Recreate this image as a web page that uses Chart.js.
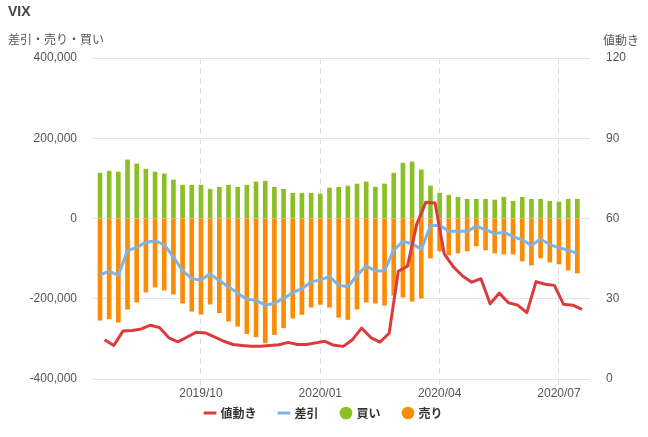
<!DOCTYPE html>
<html lang="ja">
<head>
  <meta charset="UTF-8">
  <title>VIX</title>
  <script src="https://cdn.jsdelivr.net/npm/chart.js"></script>
</head>
<body style="margin:0; background:#fff; font-family:'Liberation Sans', Arial, sans-serif;">

  <!-- HEADER TEXTS -->
  <div style="position:relative; width:648px; height:437px;">
    <div style="position:absolute; left:8px; top:3px; font-size:14px; font-weight:bold; color:#444;">VIX</div>
    <div style="position:absolute; left:8px; top:30px; font-size:12px; color:#555; font-family:'Noto Sans CJK JP', sans-serif;">差引・売り・買い</div>
    <div style="position:absolute; left:603px; top:31px; font-size:12px; color:#555; font-family:'Noto Sans CJK JP', sans-serif;">値動き</div>
    <canvas id="vixChart"></canvas>
  </div>

  <script>
    // weekly dates
    const dates = [
      '2019/07/19','2019/07/26','2019/08/02','2019/08/09','2019/08/16','2019/08/23','2019/08/30',
      '2019/09/06','2019/09/13','2019/09/20','2019/09/27','2019/10/04','2019/10/11','2019/10/18',
      '2019/10/25','2019/11/01','2019/11/08','2019/11/15','2019/11/22','2019/11/29','2019/12/06',
      '2019/12/13','2019/12/20','2019/12/27','2020/01/03','2020/01/10','2020/01/17','2020/01/24',
      '2020/01/31','2020/02/07','2020/02/14','2020/02/21','2020/02/28','2020/03/06','2020/03/13',
      '2020/03/20','2020/03/27','2020/04/03','2020/04/10','2020/04/17','2020/04/24','2020/05/01',
      '2020/05/08','2020/05/15','2020/05/22','2020/05/29','2020/06/05','2020/06/12','2020/06/19',
      '2020/06/26','2020/07/03','2020/07/10','2020/07/17'
    ];

    // 買い
    const buy = [
      113000, 118000, 116000, 146000, 136000, 123000, 116000, 111000, 96000, 83000,
      83000, 83000, 73000, 78000, 83000, 78000, 83000, 91000, 93000, 78000,
      73000, 63000, 63000, 63000, 61000, 76000, 78000, 81000, 86000, 91000,
      78000, 86000, 113000, 138000, 141000, 121000, 81000, 63000, 58000, 53000,
      48000, 48000, 48000, 46000, 53000, 43000, 53000, 48000, 48000, 43000,
      41000, 48000, 48000
    ];

    // 売り
    const sell = [
      -253500, -250000, -258500, -226000, -208500, -183500, -171000, -178500, -188500, -211000,
      -231000, -238500, -213500, -235000, -256000, -268500, -286750, -295000, -310000, -289250,
      -272500, -248500, -239250, -221000, -214250, -221000, -246000, -251750, -226000, -208500,
      -211000, -216000, -191000, -196000, -206000, -198500, -98500, -81000, -91000, -86000,
      -81000, -68500, -78500, -86000, -88500, -88500, -106000, -116000, -98500, -108500,
      -113500, -128500, -136000
    ];

    // 差引
    const net = [
      -141000, -131000, -142000, -80000, -72000, -59000, -56000, -65000, -96000, -130000,
      -150000, -153000, -138000, -155000, -170000, -186000, -201000, -204000, -216000, -211000,
      -199000, -185000, -175000, -158000, -153000, -145000, -166000, -170000, -142000, -118000,
      -131000, -130000, -78000, -57000, -63000, -77000, -18000, -17000, -32000, -32000,
      -32000, -19000, -28000, -38000, -34000, -45000, -53000, -67000, -51000, -65000,
      -73000, -79000, -87000
    ];

    // 値動き (VIX)
    const price = [
      14.7, 12.5, 17.9, 18.1, 18.7, 20.1, 19.2, 15.4, 13.9, 15.7,
      17.5, 17.2, 15.7, 14.1, 12.9, 12.5, 12.2, 12.2, 12.5, 12.8,
      13.7, 12.9, 12.9, 13.5, 14.1, 12.6, 12.2, 14.7, 19.0, 15.5,
      13.8, 17.1, 40.3, 42.2, 57.8, 66.1, 65.8, 46.8, 41.9, 38.5,
      36.2, 37.5, 28.1, 32.1, 28.5, 27.6, 24.8, 36.4, 35.4, 35.0,
      27.9, 27.6, 26.0
    ];

    const leftTicks = [-400000, -200000, 0, 200000, 400000];
    const rightTicks = [0, 30, 60, 90, 120];

    // quarter ticks: first week of Jan/Apr/Jul/Oct
    const tickIdx = dates
      .map((d, i) => ({ m: +d.slice(5, 7), day: +d.slice(8, 10), i }))
      .filter(o => o.day <= 7 && o.m % 3 === 1)
      .map(o => o.i);

    const pts = arr => arr.map((v, i) => ({ x: i, y: v }));

    const tickFont = { family: "'Liberation Sans', Arial, sans-serif", size: 12 };
    const xMin = -0.87, xMax = 53.38;

    // legend sits a bit higher, overlapping the empty part of the x-axis box
    const legendLift = {
      id: 'legendLift',
      afterLayout(chart) {
        const lg = chart.legend;
        lg.top -= 17;
        lg.bottom -= 17;
      }
    };

    new Chart(document.getElementById('vixChart'), {
      type: 'bar',
      data: {
        datasets: [
          {
            type: 'line', label: '値動き', data: pts(price), yAxisID: 'y1', xAxisID: 'x2',
            borderColor: '#dc3b3b', borderWidth: 3, pointRadius: 0, pointBorderWidth: 3,
            pointStyle: 'line', tension: 0, borderJoinStyle: 'round'
          },
          {
            type: 'line', label: '差引', data: pts(net), yAxisID: 'y', xAxisID: 'x',
            borderColor: '#7fb3e3', borderWidth: 3, pointRadius: 0, pointBorderWidth: 3,
            pointStyle: 'line', tension: 0, borderJoinStyle: 'round'
          },
          {
            label: '買い', data: pts(buy), yAxisID: 'y', xAxisID: 'x',
            backgroundColor: '#8cbf26', borderWidth: 0, barThickness: 4,
            grouped: false, pointStyle: 'circle'
          },
          {
            label: '売り', data: pts(sell), yAxisID: 'y', xAxisID: 'x',
            backgroundColor: '#fb8c05', borderWidth: 0, barThickness: 4,
            grouped: false, pointStyle: 'circle'
          }
        ]
      },
      options: {
        responsive: true,
        maintainAspectRatio: false,
        animation: false,
        layout: { padding: { top: 58, bottom: -9, left: 0, right: 0 } },
        plugins: {
          tooltip: { enabled: false },
          legend: {
            position: 'bottom',
            labels: {
              usePointStyle: true, boxWidth: 9, boxHeight: 9, padding: 23, color: '#333',
              font: { family: "'Noto Sans CJK JP', sans-serif", size: 12, weight: 'bold' }
            }
          }
        },
        scales: {
          x: {
            type: 'linear', position: 'bottom', min: xMin, max: xMax, offset: false,
            afterBuildTicks: s => { s.ticks = tickIdx.map(v => ({ value: v })); },
            afterFit: s => { s.height = 22; },
            grid: { offset: false, color: '#dddddd', tickColor: '#dddddd', tickLength: 7, tickBorderDash: [6, 4] },
            border: { display: false, dash: [6, 4] },
            ticks: {
              padding: 0, color: '#555', font: tickFont, autoSkip: false, maxRotation: 0,
              callback: v => dates[v] ? dates[v].slice(0, 7) : ''
            }
          },
          // price points sit half a week to the right of the bars
          x2: {
            type: 'linear', position: 'bottom', min: xMin - 0.5, max: xMax - 0.5, offset: false,
            afterFit: s => { s.height = 0; },
            grid: { display: false, offset: false },
            border: { display: false },
            ticks: { display: false }
          },
          y: {
            position: 'left', min: leftTicks[0], max: leftTicks[leftTicks.length - 1],
            afterBuildTicks: s => { s.ticks = leftTicks.map(v => ({ value: v })); },
            afterFit: s => { s.width = 92; },
            grid: { color: '#e4e4e4', drawTicks: false },
            border: { display: false },
            ticks: { padding: 15, color: '#555', font: tickFont }
          },
          y1: {
            position: 'right', min: rightTicks[0], max: rightTicks[rightTicks.length - 1],
            afterBuildTicks: s => { s.ticks = rightTicks.map(v => ({ value: v })); },
            afterFit: s => { s.width = 58; },
            grid: { drawOnChartArea: false, drawTicks: false },
            border: { display: false },
            ticks: { padding: 16, color: '#555', font: tickFont }
          }
        }
      },
      plugins: [legendLift]
    });
  </script>

</body>
</html>
